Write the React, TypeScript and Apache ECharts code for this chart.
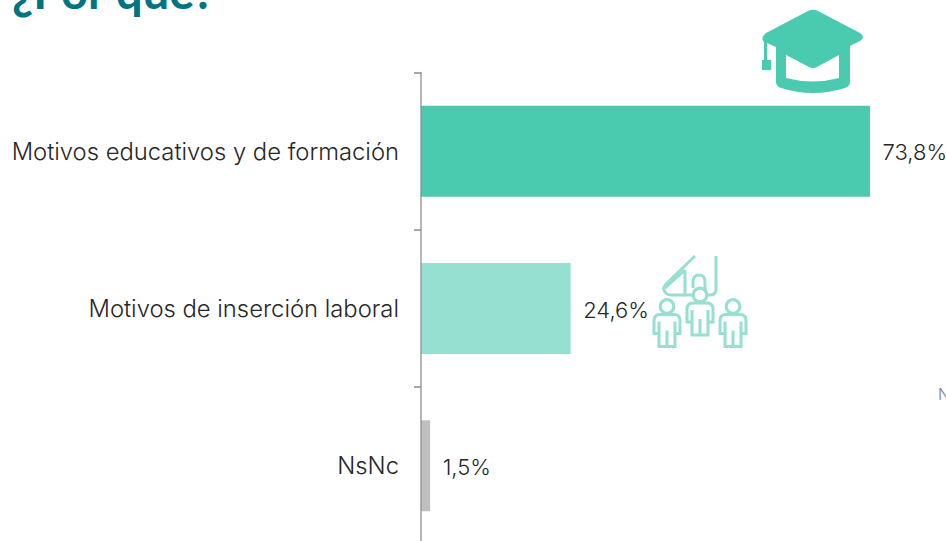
import React, { useEffect, useRef } from "react";
import * as echarts from "echarts";

const categories = ["Motivos educativos y de formación", "Motivos de inserción laboral", "NsNc"];
const values = [73.8, 24.6, 1.5];
const barColors = ["#4ACBB0", "#96E0D2", "#BFBFBF"];
const titleText = "¿Por qué?";
const clippedNote = "N";

const CAP =
  "M808,11 Q813,8.5 818,11 L860,33 Q866,37 860,41 L850,46 L850,82 Q850,86 845,88 Q813,98 781,88 Q776,86 776,82 L776,47 L767,43 L767,60 L771,60 L771,70 L762,70 L762,60 L764,60 L764,42 Q760,38 766,33 Z " +
  "M786,55 L786,78 Q813,85 839,78 L839,55 L817,67 Q813,69 809,67 Z";
const HAND =
  "M695,256 L666,284 Q662,288 665,292 Q667,295 671,295 L710,295 Q716,295 716,289 L716,256 M685,270 L665,288 M685,270 L685,295 M693,288 L693,282 Q693,275 699,275 Q705,275 705,282 L705,290";
const PERSON =
  "M-7,8 L7,8 Q13,8 13,14 L13,27 L8,27 L8,15 M8,27 L8,40 L-8,40 L-8,27 L-13,27 L-13,14 Q-13,8 -7,8 M-8,27 L-8,15 M0,24 L0,40";

echarts.graphic.registerShape("capIcon", echarts.graphic.extendPath(CAP, {}) as any);
echarts.graphic.registerShape("handIcon", echarts.graphic.extendPath(HAND, {}) as any);
echarts.graphic.registerShape("personIcon", echarts.graphic.extendPath(PERSON, {}) as any);

const FONT = "Inter";
const TEXT = "#262626";
const LIGHT = "#96E0D2";
const stroke = { fill: "none", stroke: LIGHT, lineWidth: 3 };
const person = (x: number, y: number) => [
  { type: "circle", shape: { cx: x, cy: y, r: 6.8 }, style: { ...stroke, fill: "#ffffff" } },
  { type: "personIcon", x, y, style: stroke },
];

export default function App() {
  const ref = useRef<HTMLDivElement>(null);
  useEffect(() => {
    document.body.style.margin = "0";
    document.body.style.overflow = "hidden";
    const chart = echarts.init(ref.current!, null, { renderer: "svg" });
    chart.setOption({
      animation: false,
      backgroundColor: "#ffffff",
      textStyle: { fontFamily: FONT },
      grid: { left: 421, top: 72.5, width: 608.4, height: 472, containLabel: false },
      xAxis: { type: "value", min: 0, max: 100, show: false },
      yAxis: {
        type: "category",
        inverse: true,
        data: categories,
        z: 5,
        axisLine: { show: true, lineStyle: { color: "#8C8C8C", width: 1.5, opacity: 0.85 } },
        axisTick: { show: true, length: 7, lineStyle: { color: "#8C8C8C", width: 1.5 } },
        axisLabel: { color: TEXT, fontSize: 23.8, fontFamily: FONT, fontWeight: 300, margin: 22, padding: [2, 0, 0, 0] },
      },
      series: [
        {
          type: "bar",
          barWidth: 91,
          data: values.map((value, i) => ({ value, itemStyle: { color: barColors[i] } })),
          label: {
            show: true,
            position: "right",
            distance: 12.5,
            offset: [0, 1],
            color: TEXT,
            fontSize: 22,
            fontFamily: FONT,
            fontWeight: 300,
            formatter: (p: any) => `${String(p.value).replace(".", ",")}%`,
          },
        },
      ],
      graphic: [
        {
          type: "text",
          x: 12,
          y: 14,
          style: {
            text: titleText,
            fill: "#007482",
            font: `bold 47px Lato`,
            verticalAlign: "bottom",
          },
        },
        {
          type: "text",
          x: 938,
          y: 386,
          style: { text: clippedNote, fill: "#7F7F7F", font: `300 16px ${FONT}` },
        },
        { type: "capIcon", style: { fill: "#4ACBB0" } },
        { type: "handIcon", style: stroke },
        ...person(667, 306.5),
        ...person(700, 295),
        ...person(733, 306.5),
      ],
    });
    return () => chart.dispose();
  }, []);
  return (
    <div style={{ position: "fixed", left: 0, top: 0, width: 946, height: 541, overflow: "hidden" }}>
      <div ref={ref} style={{ width: 1100, height: 640 }} />
    </div>
  );
}
